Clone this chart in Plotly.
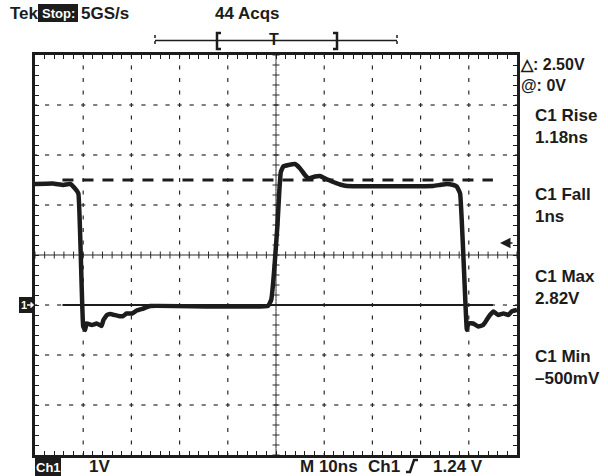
import plotly.graph_objects as go

# ---------------- data ----------------
time_ns = [-50.0, -46.3, -44.1, -42.7, -41.7, -41.0, -40.0, -39.6, -39.3, -38.2, -37.2, -36.2,
           -35.8, -35.1, -34.4, -32.7, -31.7, -31.0, -29.9, -28.9, -27.5, -26.1, -1.7, -1.0,
           0.3, 0.7, 1.0, 1.5, 2.6, 3.9, 5.0, 6.0, 6.7, 8.1, 9.1, 10.2, 11.6, 13.3, 14.7,
           32.6, 34.0, 35.4, 36.8, 37.5, 38.2, 39.6, 39.9, 40.9, 42.0, 43.0, 43.7, 44.4,
           45.1, 46.1, 47.2, 48.2, 48.9, 50.0]
volts = [2.42, 2.43, 2.40, 2.42, 2.33, 2.23, -0.43, -0.50, -0.37, -0.40, -0.37, -0.42,
         -0.30, -0.20, -0.18, -0.22, -0.22, -0.17, -0.17, -0.11, -0.07, -0.02, -0.02, 0.10,
         1.60, 2.30, 2.66, 2.77, 2.80, 2.82, 2.73, 2.60, 2.53, 2.57, 2.58, 2.53, 2.47, 2.41, 2.38,
         2.38, 2.40, 2.42, 2.40, 2.37, 2.23, -0.50, -0.37, -0.37, -0.43, -0.40, -0.30, -0.20,
         -0.13, -0.20, -0.17, -0.20, -0.13, -0.10]

cursor_levels = [0.0, 2.5]          # solid @: 0V and dashed 0V + delta 2.50V
cursor_span = [-44.3, 45.0]
trigger_level = 1.24

top_labels = ["Tek", "Stop:", "5GS/s", "44 Acqs"]
bottom_labels = ["Ch1", "1V", "M 10ns", "Ch1", "1.24 V"]
cursor_labels = ["△: 2.50V", "@: 0V"]
side_labels = ["C1 Rise", "1.18ns", "C1 Fall", "1ns",
               "C1 Max", "2.82V", "C1 Min", "–500mV"]

X_RANGE = [-50, 50]   # 10 divisions of 10 ns
Y_RANGE = [-3, 5]     # 8 divisions of 1 V

FONT = "Liberation Sans, Arial, sans-serif"
INK = "#1c1c1c"
DOT = "#2a2a2a"

# plot box in pixels
L, R, T, B = 35, 517, 55, 455
W, H = 608, 476


def px(x):
    return (x - L) / (R - L)


def py(y):
    return (B - y) / (B - T)


fig = go.Figure()

# ---------------- graticule (dotted grid) ----------------
gx_h, gy_h = [], []
gx_v, gy_v = [], []
for v in range(-2, 5):
    if v == 1:
        continue
    for k in range(0, 41):
        gx_h.append(-50 + k * 2.5)
        gy_h.append(v)
for t in range(-40, 50, 10):
    if t == 0:
        continue
    for k in range(0, 33):
        gx_v.append(t)
        gy_v.append(-3 + k * 0.25)
fig.add_trace(go.Scatter(x=gx_h, y=gy_h, mode="markers", hoverinfo="skip",
                         marker=dict(symbol="line-ew", size=3, line=dict(width=1.2, color=DOT))))
fig.add_trace(go.Scatter(x=gx_v, y=gy_v, mode="markers", hoverinfo="skip",
                         marker=dict(symbol="line-ns", size=3, line=dict(width=1.2, color=DOT))))

# centre cross lines with ticks
cx_t = [-50 + 2 * k for k in range(51)]
cx_d = [-49 + 2 * k for k in range(50)]
fig.add_trace(go.Scatter(x=cx_t, y=[1] * len(cx_t), mode="markers", hoverinfo="skip",
                         marker=dict(symbol="cross-thin", size=5, line=dict(width=1, color=DOT))))
fig.add_trace(go.Scatter(x=cx_d, y=[1] * len(cx_d), mode="markers", hoverinfo="skip",
                         marker=dict(symbol="line-ew", size=2, line=dict(width=1, color=DOT))))
cy_t = [-3 + 0.2 * k for k in range(41)]
cy_d = [-2.9 + 0.2 * k for k in range(40)]
fig.add_trace(go.Scatter(x=[0] * len(cy_t), y=cy_t, mode="markers", hoverinfo="skip",
                         marker=dict(symbol="cross-thin", size=5, line=dict(width=1, color=DOT))))
fig.add_trace(go.Scatter(x=[0] * len(cy_d), y=cy_d, mode="markers", hoverinfo="skip",
                         marker=dict(symbol="line-ns", size=2, line=dict(width=1, color=DOT))))

# ---------------- cursors ----------------
fig.add_trace(go.Scatter(x=cursor_span, y=[cursor_levels[0]] * 2, mode="lines", hoverinfo="skip",
                         line=dict(color=INK, width=2)))
fig.add_trace(go.Scatter(x=cursor_span, y=[cursor_levels[1]] * 2, mode="lines", hoverinfo="skip",
                         line=dict(color=INK, width=3, dash="11px,9px")))

# ---------------- waveform ----------------
fig.add_trace(go.Scatter(x=time_ns, y=volts, mode="lines",
                         line=dict(color=INK, width=4.5, shape="spline", smoothing=0.3)))

# ---------------- axes (screen border with inside ticks) ----------------
fig.update_xaxes(range=X_RANGE, showgrid=False, zeroline=False, showticklabels=False,
                 ticks="inside", tick0=-50, dtick=2, ticklen=4, tickwidth=1, tickcolor=INK,
                 showline=True, linewidth=3, linecolor=INK, mirror="ticks", fixedrange=True)
fig.update_yaxes(range=Y_RANGE, showgrid=False, zeroline=False, showticklabels=False,
                 ticks="inside", tick0=-3, dtick=0.2, ticklen=4, tickwidth=1, tickcolor=INK,
                 showline=True, linewidth=3, linecolor=INK, mirror="ticks", fixedrange=True)

ann = []
shapes = []


def text(x, y, s, size=17, color=INK, xanchor="left", yanchor="middle"):
    ann.append(dict(x=px(x), y=py(y), xref="paper", yref="paper", text=s,
                    showarrow=False, xanchor=xanchor, yanchor=yanchor, align="left",
                    font=dict(family=FONT, size=size, color=color, weight="bold"), borderpad=0))


def box(x0, y0, x1, y1):
    shapes.append(dict(type="rect", xref="paper", yref="paper", x0=px(x0), x1=px(x1),
                       y0=py(y0), y1=py(y1), fillcolor=INK, line=dict(width=0), layer="below"))


# top header
text(9, 13, top_labels[0])
box(38, 4, 78, 22)
text(58, 13, top_labels[1], size=13, color="white", xanchor="center")
text(80, 13, top_labels[2])
text(214, 13, top_labels[3])

# cursor readout (two stacked lines in one block)
text(519, 75, "<br>".join(cursor_labels), size=16)

# measurement readouts
side_y = [117, 135, 197, 215, 278, 296, 358, 376]
for i in range(0, len(side_labels), 2):
    text(534, (side_y[i] + side_y[i + 1]) / 2, side_labels[i] + "<br>" + side_labels[i + 1])

# bottom status line
box(35, 458, 61, 476)
text(48, 467, bottom_labels[0], size=13, color="white", xanchor="center")
text(88, 466, bottom_labels[1])
text(299, 466, bottom_labels[2])
text(367, 466, bottom_labels[3])
text(432, 466, bottom_labels[4])

# ground marker "1 ->"
box(19, 297, 35, 313)
text(24, 305, "1", size=11, color="white", xanchor="center")
shapes.append(dict(type="path", xref="paper", yref="paper",
                   path="M %f %f L %f %f M %f %f L %f %f L %f %f" % (
                       px(27), py(305), px(33), py(305), px(30.5), py(302.5), px(33), py(305), px(30.5), py(307.5)),
                   line=dict(color="white", width=1.5)))

# trigger level arrow on the right edge
ann.append(dict(x=px(500), y=trigger_level, xref="paper", yref="y", ax=14, ay=0,
                showarrow=True, arrowhead=2, arrowsize=1.4, arrowwidth=1.5, arrowcolor=INK, text=""))

# trigger position marker "T"
text(274, 40, "T", size=16, xanchor="center")

fig.update_layout(annotations=ann)

# trigger position bar
shapes.append(dict(type="line", xref="paper", yref="paper", x0=px(155), x1=px(397), y0=py(40.5), y1=py(40.5),
                   line=dict(color=INK, width=1.5)))
for xe in (155, 397):
    shapes.append(dict(type="line", xref="paper", yref="paper", x0=px(xe), x1=px(xe), y0=py(35), y1=py(46),
                       line=dict(color=INK, width=1.5, dash="dot")))
# brackets
shapes.append(dict(type="path", xref="paper", yref="paper",
                   path="M %f %f L %f %f L %f %f L %f %f" % (px(221), py(33), px(217), py(33), px(217), py(49), px(221), py(49)),
                   line=dict(color=INK, width=2.5)))
shapes.append(dict(type="path", xref="paper", yref="paper",
                   path="M %f %f L %f %f L %f %f L %f %f" % (px(333), py(33), px(337), py(33), px(337), py(49), px(333), py(49)),
                   line=dict(color=INK, width=2.5)))
# rising edge glyph
shapes.append(dict(type="path", xref="paper", yref="paper",
                   path="M %f %f L %f %f L %f %f L %f %f" % (px(406), py(472), px(410), py(472), px(414), py(460), px(418), py(460)),
                   line=dict(color=INK, width=2.5)))

fig.update_layout(
    shapes=shapes,
    width=W, height=H, autosize=False,
    margin=dict(l=L, r=W - R, t=T, b=H - B, pad=0),
    paper_bgcolor="white", plot_bgcolor="white",
    showlegend=False,
)

fig.write_html("out.html", config={"displayModeBar": False},
               post_script="document.body.style.margin='0';document.body.style.overflow='hidden';")
